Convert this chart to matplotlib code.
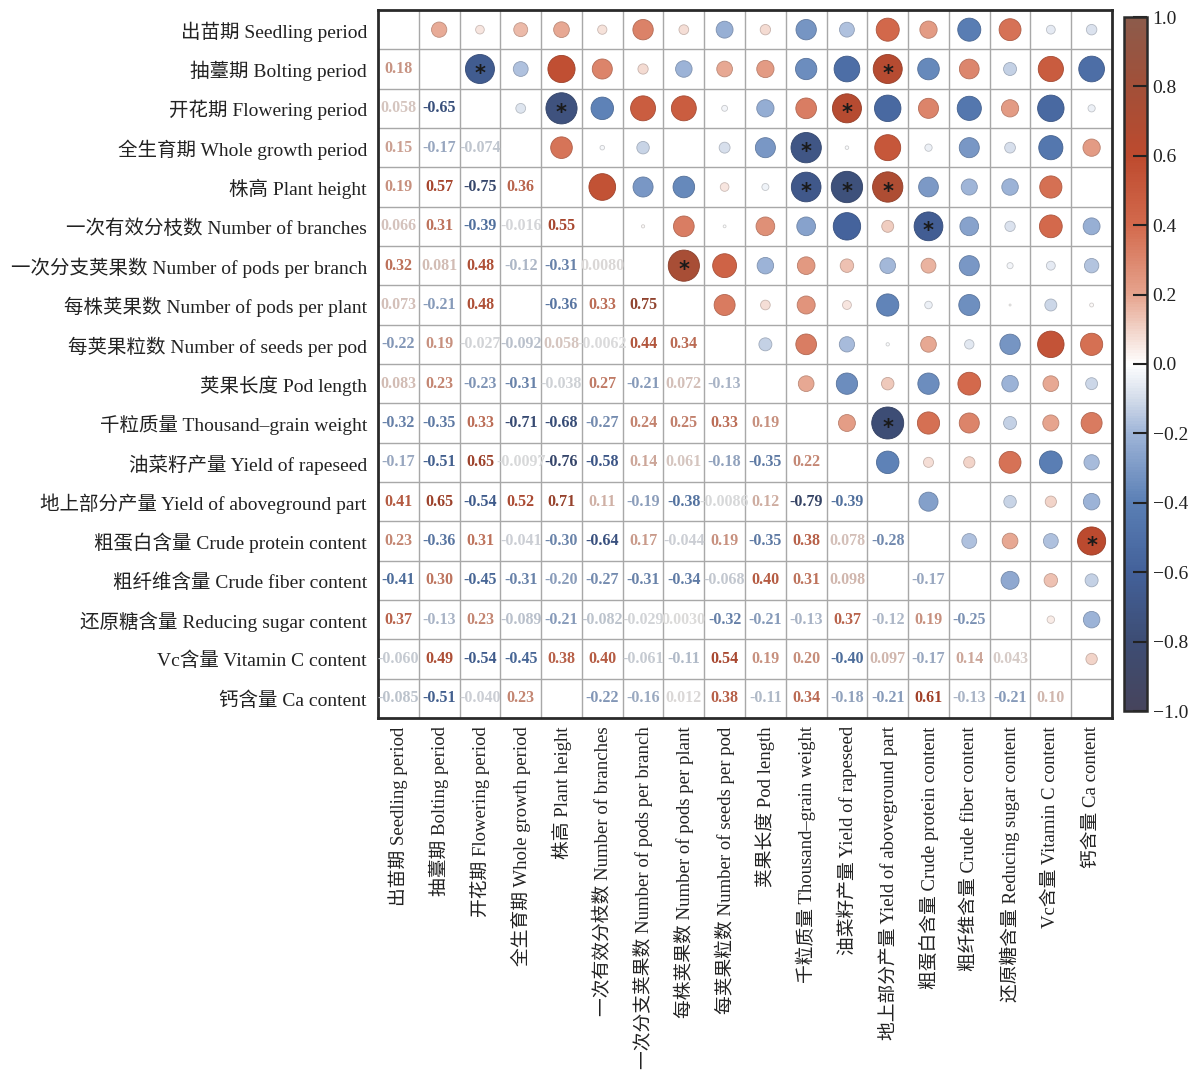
import numpy as np
import matplotlib
matplotlib.use("Agg")
import matplotlib.pyplot as plt
from matplotlib.colors import LinearSegmentedColormap, Normalize
from matplotlib.cm import ScalarMappable

nan = np.nan

labels_cn = ["出苗期", "抽薹期", "开花期", "全生育期", "株高", "一次有效分枝数",
             "一次分支荚果数", "每株荚果数", "每荚果粒数", "荚果长度", "千粒质量",
             "油菜籽产量", "地上部分产量", "粗蛋白含量", "粗纤维含量", "还原糖含量",
             "Vc含量", "钙含量"]
labels_en = ["Seedling period", "Bolting period", "Flowering period",
             "Whole growth period", "Plant height", "Number of branches",
             "Number of pods per branch", "Number of pods per plant",
             "Number of seeds per pod", "Pod length", "Thousand\u2013grain weight",
             "Yield of rapeseed", "Yield of aboveground part",
             "Crude protein content", "Crude fiber content",
             "Reducing sugar content", "Vitamin C content", "Ca content"]

# lower-triangle correlation coefficients (row i, columns 0..i-1)
lower = [
    [],
    [0.18],
    [0.058, -0.65],
    [0.15, -0.17, -0.074],
    [0.19, 0.57, -0.75, 0.36],
    [0.066, 0.31, -0.39, -0.016, 0.55],
    [0.32, 0.081, 0.48, -0.12, -0.31, 0.0080],
    [0.073, -0.21, 0.48, nan, -0.36, 0.33, 0.75],
    [-0.22, 0.19, -0.027, -0.092, 0.058, -0.0062, 0.44, 0.34],
    [0.083, 0.23, -0.23, -0.31, -0.038, 0.27, -0.21, 0.072, -0.13],
    [-0.32, -0.35, 0.33, -0.71, -0.68, -0.27, 0.24, 0.25, 0.33, 0.19],
    [-0.17, -0.51, 0.65, -0.0097, -0.76, -0.58, 0.14, 0.061, -0.18, -0.35, 0.22],
    [0.41, 0.65, -0.54, 0.52, 0.71, 0.11, -0.19, -0.38, -0.0086, 0.12, -0.79, -0.39],
    [0.23, -0.36, 0.31, -0.041, -0.30, -0.64, 0.17, -0.044, 0.19, -0.35, 0.38, 0.078, -0.28],
    [-0.41, 0.30, -0.45, -0.31, -0.20, -0.27, -0.31, -0.34, -0.068, 0.40, 0.31, 0.098, nan, -0.17],
    [0.37, -0.13, 0.23, -0.089, -0.21, -0.082, -0.029, 0.0030, -0.32, -0.21, -0.13, 0.37, -0.12, 0.19, -0.25],
    [-0.060, 0.49, -0.54, -0.45, 0.38, 0.40, -0.061, -0.11, 0.54, 0.19, 0.20, -0.40, 0.097, -0.17, 0.14, 0.043],
    [-0.085, -0.51, -0.040, 0.23, nan, -0.22, -0.16, 0.012, 0.38, -0.11, 0.34, -0.18, -0.21, 0.61, -0.13, -0.21, 0.10],
]

# significant pairs (row, col) in the upper triangle marked with *
significant = [(1, 2), (1, 12), (2, 4), (2, 11), (3, 10), (4, 10), (4, 11),
               (4, 12), (5, 13), (6, 7), (10, 12), (13, 17)]

cb_ticks = [-1.0, -0.8, -0.6, -0.4, -0.2, 0.0, 0.2, 0.4, 0.6, 0.8, 1.0]

n = len(labels_cn)
M = np.full((n, n), nan)
for i, row in enumerate(lower):
    for j, v in enumerate(row):
        M[i, j] = v
        M[j, i] = v

nodes = [(-1.0, "#46445c"), (-0.8, "#3d4d74"), (-0.6, "#43619a"),
         (-0.4, "#5a7fb5"), (-0.2, "#9fb5d8"), (-0.1, "#d3dcea"),
         (0.0, "#ffffff"), (0.1, "#f2d3c8"), (0.2, "#e6a48e"),
         (0.4, "#d36a4d"), (0.6, "#bd4a2e"), (0.8, "#a24f38"), (1.0, "#8c5b4b")]
cmap = LinearSegmentedColormap.from_list(
    "corr", [((p + 1) / 2, c) for p, c in nodes])
norm = Normalize(-1, 1)

serif_cjk = ["Liberation Serif", "Noto Sans CJK SC"]

fig = plt.figure(figsize=(12, 10.82), dpi=100)
ax = fig.add_axes([378 / 1200, 1 - 718 / 1082, (1112 - 378) / 1200, (718 - 10) / 1082])
ax.set_xlim(-0.5, n - 0.5)
ax.set_ylim(n - 0.5, -0.5)

for k in range(1, n):
    ax.axhline(k - 0.5, color="#a8a8a8", lw=1.0, zorder=1)
    ax.axvline(k - 0.5, color="#a8a8a8", lw=1.0, zorder=1)

# upper triangle: circles
xs, ys, ss, cs = [], [], [], []
for i in range(n):
    for j in range(i + 1, n):
        v = M[i, j]
        if np.isnan(v):
            continue
        xs.append(j)
        ys.append(i)
        ss.append(671 * abs(v))
        cs.append(v)
cols = cmap(norm(np.array(cs)))
edges = cols.copy()
edges[:, :3] *= 0.82
ax.scatter(xs, ys, s=ss, c=cols, edgecolors=edges, linewidths=0.6, zorder=3)

for (i, j) in significant:
    ax.text(j, i + 0.12, "*", ha="center", va="center", fontsize=15,
            fontweight="bold", color="#1a1a1a", family="DejaVu Sans", zorder=4)

# lower triangle: numbers
for i in range(n):
    for j in range(i):
        v = M[i, j]
        if np.isnan(v):
            continue
        s = f"{v:.2f}" if abs(v) >= 0.1 else f"{v:#.2g}"
        col = np.array(cmap(norm(v)))
        col[:3] *= 0.86
        ax.text(j, i, s, ha="center", va="center", fontsize=11.5,
                fontweight="bold", color=tuple(col), family="Liberation Serif", zorder=4)

ticklabels = [f"{c} {e}" for c, e in zip(labels_cn, labels_en)]
ax.set_xticks(range(n))
ax.set_yticks(range(n))
ax.set_xticklabels(ticklabels, rotation=90, fontsize=13.5, family=serif_cjk,
                   color="#222222", va="top", ha="center")
ax.set_yticklabels(ticklabels, fontsize=14, family=serif_cjk, color="#222222")
ax.tick_params(axis="y", length=0, pad=8)
ax.tick_params(axis="x", length=0, pad=6)
for sp in ax.spines.values():
    sp.set_linewidth(2)
    sp.set_color("#2a2a2a")

# colorbar
cax = fig.add_axes([1124 / 1200, 1 - 711 / 1082, 23 / 1200, (711 - 17) / 1082])
cb = fig.colorbar(ScalarMappable(norm=norm, cmap=cmap), cax=cax)
cb.set_ticks(cb_ticks)
cb.ax.tick_params(direction="in", length=10, width=1.5, colors="#222222",
                  labelsize=14, pad=4)
for lab in cb.ax.get_yticklabels():
    lab.set_family("Liberation Serif")
cb.outline.set_linewidth(1.8)
cb.outline.set_edgecolor("#2a2a2a")

fig.savefig("out.png", dpi=100, facecolor="white")
